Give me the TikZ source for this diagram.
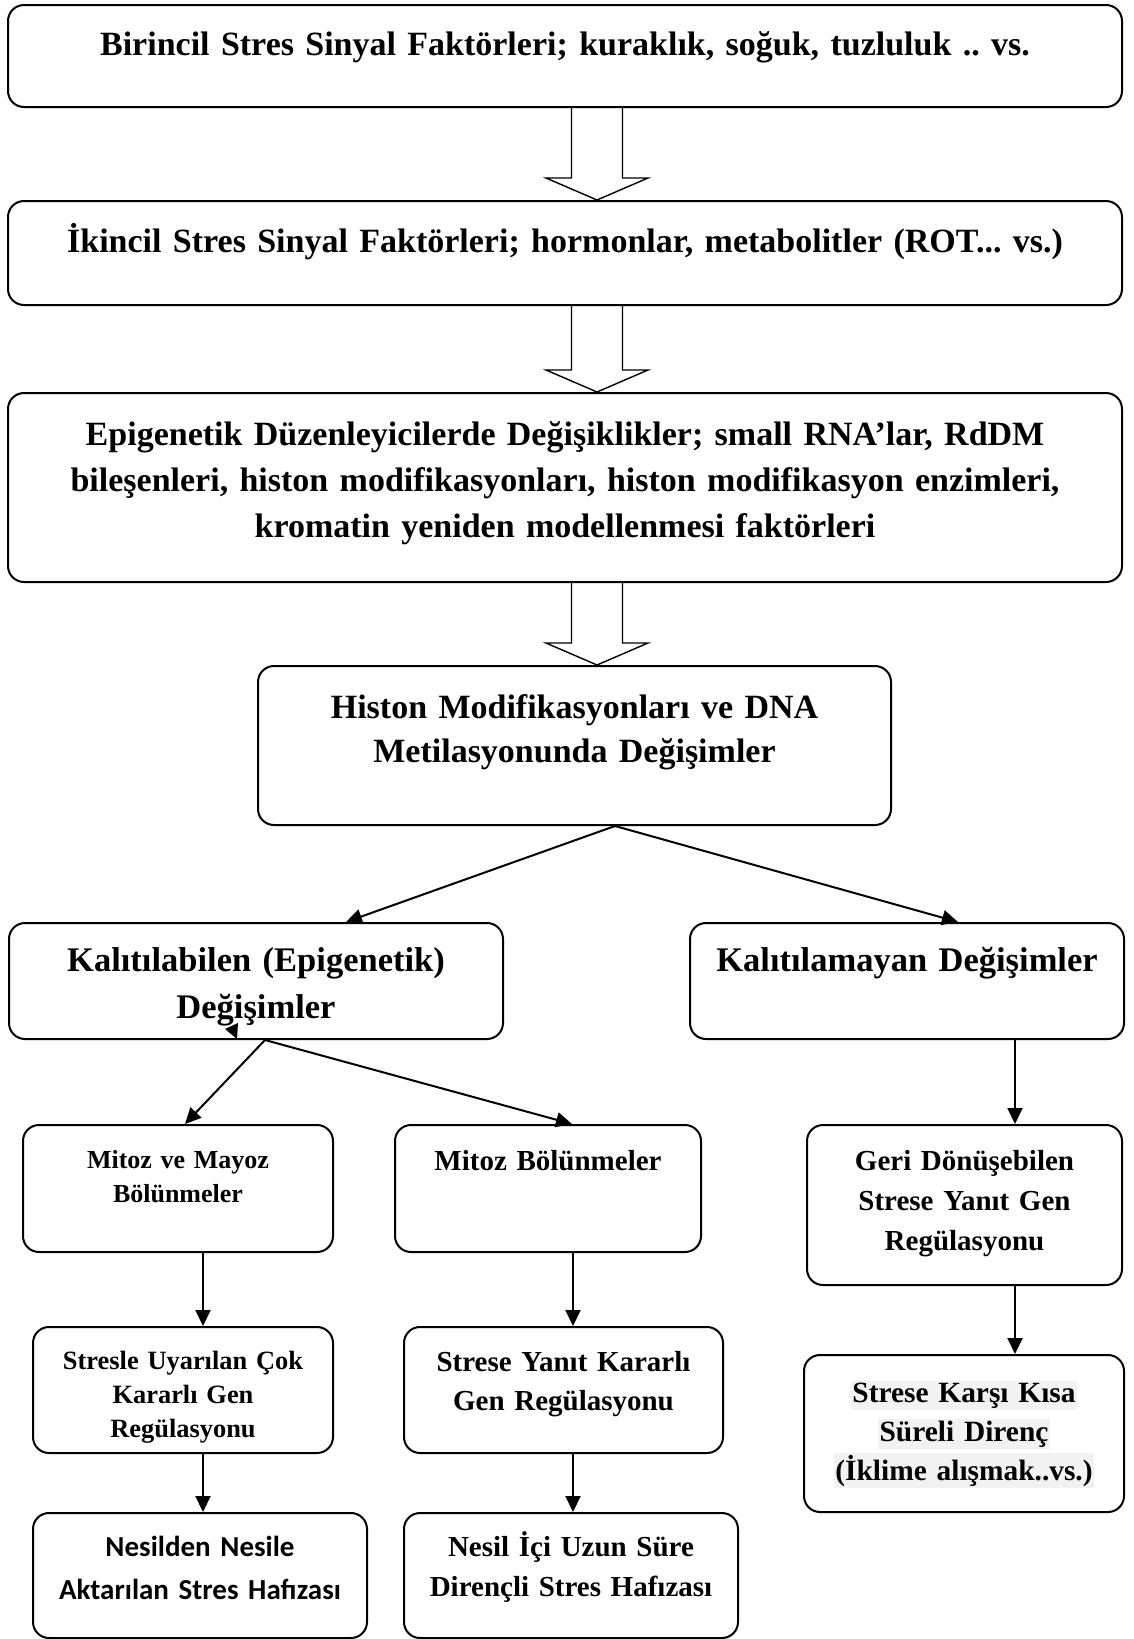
\documentclass[tikz,border=0pt]{standalone}
\usepackage{fontspec}
\setmainfont{Liberation Serif}
\newfontfamily\calibfont{Carlito}
\usetikzlibrary{arrows.meta}
\definecolor{hl}{RGB}{242,242,242}
\frenchspacing

\begin{document}
\begin{tikzpicture}[x=1pt,y=-1pt]

      \tikzset{stage/.style={draw, line width=2pt, rounded corners=16pt, inner sep=0pt},
               txt/.style 2 args={anchor=base, align=center, inner sep=0pt, text width=300pt,
                                  font=\bfseries\fontsize{#1}{#2}\selectfont},
               link/.style={line width=2pt, -{Triangle[length=16pt,width=15pt]}},
               hollow/.style={line width=1.4pt}}
      \useasboundingbox (0,0) rectangle (1133,1639);
% Boxes
	%Sinyal
      	\node[stage, minimum width=1114pt, minimum height=102pt] (b1) at (565,56) {};
      	\node[stage, minimum width=1114pt, minimum height=104pt] (b2) at (565,253) {};
    	\node[stage, minimum width=1114pt, minimum height=189pt] (b3) at (565,487.5) {};
  	    \node[stage, minimum width=633pt, minimum height=159pt] (b4) at (574.5,745.5) {};
	%Degisimler
		\node[stage, minimum width=494pt, minimum height=116pt] (kl) at (256,981) {};
      	\node[stage, minimum width=434pt, minimum height=116pt] (kn) at (907,981) {};
	%Bolunmeler
		\node[stage, minimum width=310pt, minimum height=127pt] (mm) at (178,1188.5) {};
      	\node[stage, minimum width=306pt, minimum height=127pt] (mb) at (548,1188.5) {};
   	 	\node[stage, minimum width=315pt, minimum height=160pt] (gd) at (964.5,1205) {};
	%Regulasyon
		\node[stage, minimum width=300pt, minimum height=126pt] (su) at (183,1390) {};
      	\node[stage, minimum width=319pt, minimum height=126pt] (sy) at (563.5,1390) {};
   	 	\node[stage, minimum width=320pt, minimum height=157pt] (sk) at (964,1433.5) {};
	%Hafiza
		\node[stage, minimum width=334pt, minimum height=125pt] (nn) at (200,1575.5) {};
      	\node[stage, minimum width=334pt, minimum height=125pt] (ni) at (571,1575.5) {};
% Texts
      	\node[txt={34}{46}, text width=1100pt] (t1) at (565,55) {Birincil Stres Sinyal Faktörleri; kuraklık, soğuk, tuzluluk .. vs.};
      	\node[txt={34}{46}, text width=1100pt] (t2) at (565,252) {İkincil Stres Sinyal Faktörleri; hormonlar, metabolitler (ROT... vs.)};
      	\node[txt={34}{46}, text width=1100pt] (t3) at (565,445) {Epigenetik Düzenleyicilerde Değişiklikler; small RNA’lar, RdDM\\ bileşenleri, histon modifikasyonları, histon modifikasyon enzimleri,\\ kromatin yeniden modellenmesi faktörleri};
      	\node[txt={34}{44}, text width=620pt] (t4) at (574.5,718) {Histon Modifikasyonları ve DNA\\ Metilasyonunda Değişimler};
		\node[txt={34.5}{47}, text width=480pt] (tkl) at (256,971) {Kalıtılabilen (Epigenetik)\\ Değişimler};
      	\node[txt={34.5}{47}, text width=420pt] (tkn) at (907,971) {Kalıtılamayan Değişimler};
		\node[txt={26}{34}] (tmm) at (178,1168) {Mitoz ve Mayoz\\ Bölünmeler};
      	\node[txt={29}{40}] (tmb) at (548,1170) {Mitoz Bölünmeler};
   	 	\node[txt={29}{40}] (tgd) at (964.5,1170) {Geri Dönüşebilen\\ Strese Yanıt Gen\\ Regülasyonu};
		\node[txt={26.4}{34}] (tsu) at (183,1369) {Stresle Uyarılan Çok\\ Kararlı Gen\\ Regülasyonu};
      	\node[txt={29}{39}] (tsy) at (563.5,1371) {Strese Yanıt Kararlı\\ Gen Regülasyonu};
   	 	\node[txt={29.4}{39}] (tsk) at (964,1402) {\setlength{\fboxsep}{1.5pt}\colorbox{hl}{Strese Karşı Kısa}\\ \colorbox{hl}{Süreli Direnç}\\ \colorbox{hl}{(İklime alışmak..vs.)}};
		\node[txt={29}{43}, font=\calibfont\bfseries\fontsize{29}{43}\selectfont] (tnn) at (200,1556) {Nesilden Nesile\\ Aktarılan Stres Hafızası};
      	\node[txt={29}{40}] (tni) at (571,1556) {Nesil İçi Uzun Süre\\ Dirençli Stres Hafızası};
%Edges
	%Kalin oklar
		\foreach \a/\b in {b1/b2, b2/b3, b3/b4}{
			\coordinate (t) at ([xshift=32pt]\a.south);
			\coordinate (h) at (\b.north -| t);
			\draw[hollow] ([xshift=-25.5pt]t) -- ([xshift=-25.5pt,yshift=22pt]h) -- ([xshift=-51pt,yshift=22pt]h)
				-- (h) -- ([xshift=51pt,yshift=22pt]h) -- ([xshift=25.5pt,yshift=22pt]h) -- ([xshift=25.5pt]t);
		}
	%Dallar
		\path[link] ([xshift=40.5pt]b4.south) edge ([xshift=90pt]kl.north);
		\path[link] ([xshift=40.5pt]b4.south) edge ([xshift=51pt]kn.north);
		\path[link] ([xshift=9pt]kl.south) edge ([xshift=7pt]mm.north);
		\path[link] ([xshift=9pt]kl.south) edge ([xshift=24pt]mb.north);
		\fill (225,1029) -- (238,1023) -- (237,1039) -- cycle;
	%Dikey oklar
		\coordinate (cA) at (203,0);
		\coordinate (cB) at (573,0);
		\coordinate (cC) at (1015,0);
		\path[link] (mm.south -| cA) edge (su.north -| cA);
		\path[link] (su.south -| cA) edge (nn.north -| cA);
		\path[link] (mb.south -| cB) edge (sy.north -| cB);
		\path[link] (sy.south -| cB) edge (ni.north -| cB);
		\path[link] (kn.south -| cC) edge (gd.north -| cC);
		\path[link] (gd.south -| cC) edge (sk.north -| cC);

	\end{tikzpicture}
\end{document}
